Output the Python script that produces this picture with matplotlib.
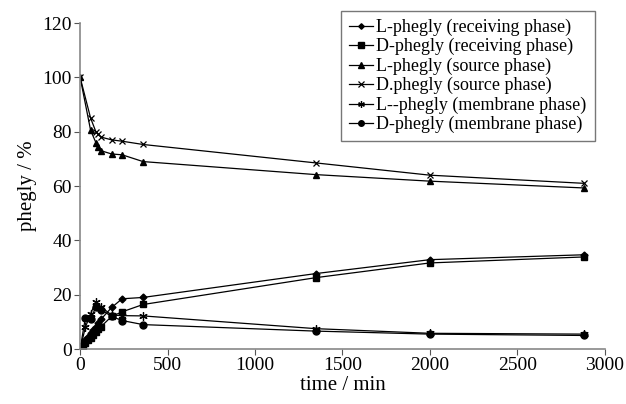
import matplotlib
matplotlib.use("Agg")
import matplotlib.pyplot as plt

plt.rcParams['font.family'] = ['Liberation Serif', 'DejaVu Serif']

t_recv = [0, 15, 30, 45, 60, 75, 90, 105, 120, 180, 240, 360, 1350, 2000, 2880]
L_recv = [0, 1.8, 3.2, 4.5, 5.8, 7.0, 8.2, 9.5, 11.0, 15.3, 18.5, 19.0, 27.8, 32.9, 34.7]
D_recv = [0, 1.2, 2.2, 3.2, 4.2, 5.2, 6.2, 7.2, 8.3, 12.0, 13.7, 16.4, 26.3, 31.7, 33.9]

t_src = [0, 60, 90, 105, 120, 180, 240, 360, 1350, 2000, 2880]
L_src = [100, 80.5, 76.0, 74.5, 73.0, 71.8, 71.5, 69.0, 64.2, 61.8, 59.3]
D_src = [100, 85.0, 80.0, 79.0, 78.0, 77.0, 76.5, 75.3, 68.5, 64.0, 61.0]

t_mem = [0, 30, 60, 90, 120, 180, 240, 360, 1350, 2000, 2880]
L_mem = [0, 8.0, 13.0, 17.5, 15.5, 12.5, 12.3, 12.2, 7.5, 5.8, 5.5]
D_mem = [0, 11.5, 11.0, 15.5, 14.5, 12.0, 10.5, 9.0, 6.6, 5.5, 5.0]

labels = ["L-phegly (receiving phase)", "D-phegly (receiving phase)",
          "L-phegly (source phase)", "D.phegly (source phase)",
          "L--phegly (membrane phase)", "D-phegly (membrane phase)"]

fig = plt.figure(figsize=(6.26, 4.04), dpi=100)
ax = fig.add_axes([0.128, 0.136, 0.838, 0.807])

kw = dict(color='black', lw=0.9)
ax.plot(t_recv, L_recv, marker='D', ms=3.5, label=labels[0], **kw)
ax.plot(t_recv, D_recv, marker='s', ms=5, label=labels[1], **kw)
ax.plot(t_src, L_src, marker='^', ms=5, label=labels[2], **kw)
ax.plot(t_src, D_src, marker='x', ms=5, mew=0.9, label=labels[3], **kw)
ax.plot(t_mem, L_mem, marker=(6, 2, 0), ms=6, mew=0.9, label=labels[4], **kw)
ax.plot(t_mem, D_mem, marker='o', ms=5, label=labels[5], **kw)

ax.set_xlim(0, 3000)
ax.set_ylim(0, 120)
ax.set_xticks([0, 500, 1000, 1500, 2000, 2500, 3000])
ax.set_yticks([0, 20, 40, 60, 80, 100, 120])
for s in ['top', 'right']:
    ax.spines[s].set_visible(False)
for s in ['left', 'bottom']:
    ax.spines[s].set_color('#888888')
    ax.spines[s].set_linewidth(1.2)
ax.tick_params(direction='out', length=4, color='#555555', labelsize=14, pad=2)
ax.set_xlabel('time / min', fontsize=15, labelpad=1)
ax.set_ylabel('phegly / %', fontsize=15)
ax.yaxis.set_label_coords(-0.083, 0.5)

leg = ax.legend(loc='upper right', bbox_to_anchor=(0.998, 1.066), fontsize=13.0,
                frameon=True, fancybox=False, handlelength=1.3, handletextpad=0.2,
                labelspacing=0.12, borderpad=0.45, markerscale=0.8)
leg.get_frame().set_edgecolor('#555555')
leg.get_frame().set_linewidth(1.0)

fig.savefig('out.png', dpi=100)
